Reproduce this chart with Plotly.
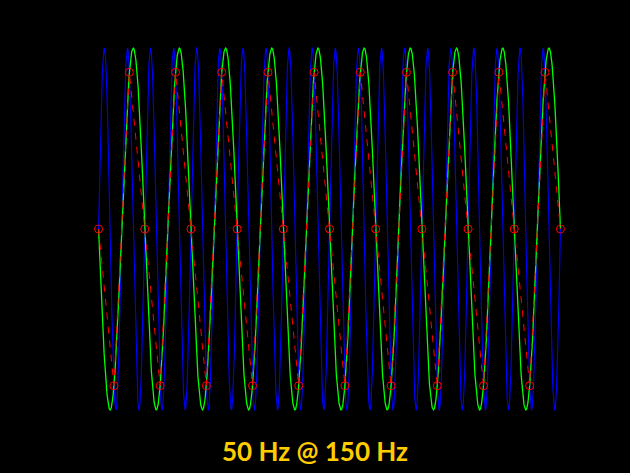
import numpy as np
import plotly.graph_objects as go

# Signal parameters
signal_freq_hz = 50      # green continuous signal
sample_rate_hz = 150     # red sample points
alias_freq_hz = 100      # blue alias (fs - f)
duration_s = 0.2
title_text = "50 Hz @ 150 Hz"

t_fine = np.linspace(0, duration_s, 4001)
green = -np.sin(2 * np.pi * signal_freq_hz * t_fine)
blue = np.sin(2 * np.pi * alias_freq_hz * t_fine)

n_samples = int(round(duration_s * sample_rate_hz)) + 1
t_samp = np.arange(n_samples) / sample_rate_hz
red = -np.sin(2 * np.pi * signal_freq_hz * t_samp)

fig = go.Figure()
fig.add_trace(go.Scatter(x=t_fine, y=blue, mode="lines",
                         line=dict(color="#0000FF", width=1.1), hoverinfo="skip"))
fig.add_trace(go.Scatter(x=t_fine, y=green, mode="lines",
                         line=dict(color="#00FF00", width=1.3), hoverinfo="skip"))
fig.add_trace(go.Scatter(x=t_samp, y=red, mode="lines+markers",
                         line=dict(color="#FF0000", width=1, dash="7px,7px"),
                         marker=dict(symbol="circle-open", size=8, color="#FF0000",
                                     line=dict(width=1, color="#FF0000"))))

fig.update_layout(
    width=630, height=473,
    paper_bgcolor="black", plot_bgcolor="black",
    showlegend=False,
    margin=dict(l=87, r=58, t=39, b=54),
    xaxis=dict(range=[-0.005, 0.205], visible=False, showgrid=False, zeroline=False),
    yaxis=dict(range=[-1.05, 1.05], visible=False, showgrid=False, zeroline=False),
    title=dict(text="<b>" + title_text + "</b>", x=0.5, xanchor="center",
               y=0.044, yanchor="middle", yref="container",
               font=dict(family="Lato", size=26, color="#FFCC00")),
)

fig.write_html("out.html", config={"displayModeBar": False},
               post_script="document.body.style.margin='0';document.body.style.background='black';")
